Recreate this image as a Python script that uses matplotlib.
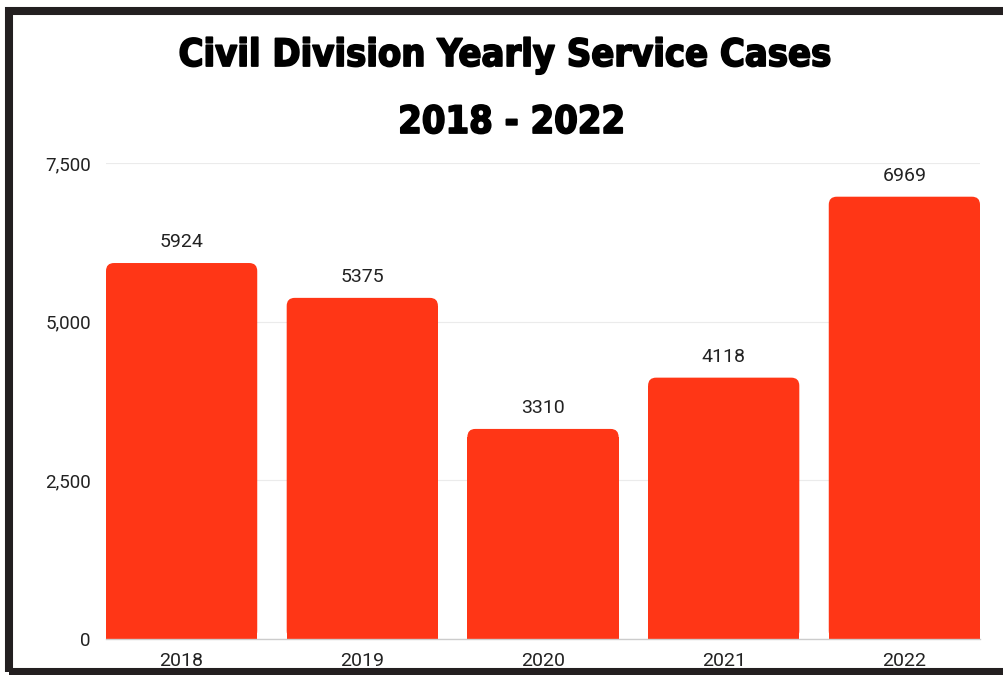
import matplotlib.pyplot as plt
import matplotlib.patheffects as pe
from matplotlib import font_manager as fm
from matplotlib.patches import FancyBboxPatch

years = ['2018', '2019', '2020', '2021', '2022']
cases = [5924, 5375, 3310, 4118, 6969]
yticks = [0, 2500, 5000, 7500]
ytick_labels = ['0', '2,500', '5,000', '7,500']
title1 = 'Civil Division Yearly Service Cases'
title2 = '2018 - 2022'

bar_color = '#FF3616'
W, H = 1004, 675

# look for a condensed bold face for the title, else DejaVu Sans bold
heavy = ('bold', 'heavy', 'black', 'extra bold', 'ultrabold', 700, 800, 900)
cond = [f for f in fm.fontManager.ttflist
        if (f.stretch in ('condensed', 'semi-condensed', 'extra-condensed', 'ultra-condensed')
            or 'Narrow' in f.name or 'Condensed' in f.name) and f.weight in heavy]
if cond:
    tfont = fm.FontProperties(fname=cond[0].fname)
else:
    tfont = fm.FontProperties(family='DejaVu Sans', weight='bold')

fig = plt.figure(figsize=(W / 100, H / 100), dpi=100)
ax = fig.add_axes([106 / W, 1 - 639 / H, (980 - 106) / W, (639 - 163) / H])

width = 0.837
x = range(len(years))
bars = ax.bar(x, cases, width=width, color=bar_color, zorder=2, linewidth=0)
ax.set_xlim(-width / 2, len(years) - 1 + width / 2)
ax.set_ylim(0, 7500)

thick = [pe.withStroke(linewidth=1.3, foreground='black')]
t1 = fig.text(505 / W, 1 - 56 / H, title1, ha='center', va='center',
              fontproperties=tfont, fontsize=40, color='black', path_effects=thick)
t2 = fig.text(512 / W, 1 - 123 / H, title2, ha='center', va='center',
              fontproperties=tfont, fontsize=40, color='black', path_effects=thick)

fig.canvas.draw()
rend = fig.canvas.get_renderer()
size = 40 * 652 / t1.get_window_extent(rend).width
t1.set_fontsize(size)
t2.set_fontsize(size)

# round the top corners of each bar
bb = ax.get_window_extent()
px_x = (ax.get_xlim()[1] - ax.get_xlim()[0]) / bb.width
px_y = (ax.get_ylim()[1] - ax.get_ylim()[0]) / bb.height
r = 8 * px_x
for b in bars:
    bx, by, bw, bh = b.get_x(), b.get_y(), b.get_width(), b.get_height()
    b.set_height(bh - 8 * px_y)
    ax.add_patch(FancyBboxPatch((bx, by), bw, bh,
                                boxstyle=f'round,pad=0,rounding_size={r}',
                                mutation_aspect=px_y / px_x,
                                fc=bar_color, ec='none', zorder=2))
    ax.text(bx + bw / 2, bh + 16 * px_y, str(bh), ha='center', va='baseline',
            fontsize=14, family='Roboto', color='#222222')

ax.set_yticks(yticks)
ax.set_yticklabels(ytick_labels, family='Roboto', fontsize=13.5, color='#222222')
ax.set_xticks(list(x))
ax.set_xticklabels(years, family='Roboto', fontsize=14, color='#222222')
ax.tick_params(length=0)
ax.tick_params(axis='y', pad=11)
ax.tick_params(axis='x', pad=9.5)
ax.grid(axis='y', color='#ebebeb', linewidth=0.8, zorder=0)
for s in ['top', 'right', 'left']:
    ax.spines[s].set_visible(False)
ax.spines['bottom'].set_color('#cccccc')
ax.spines['bottom'].set_linewidth(1)
ax.spines['bottom'].set_zorder(3)

# dark frame
fig.patches.append(plt.Rectangle((9 / W, 3 / H), (W + 20) / W, (672 - 10.5) / H,
                                 transform=fig.transFigure, fill=False,
                                 ec='#231f20', lw=5.8))

fig.savefig('out.png', dpi=100)
